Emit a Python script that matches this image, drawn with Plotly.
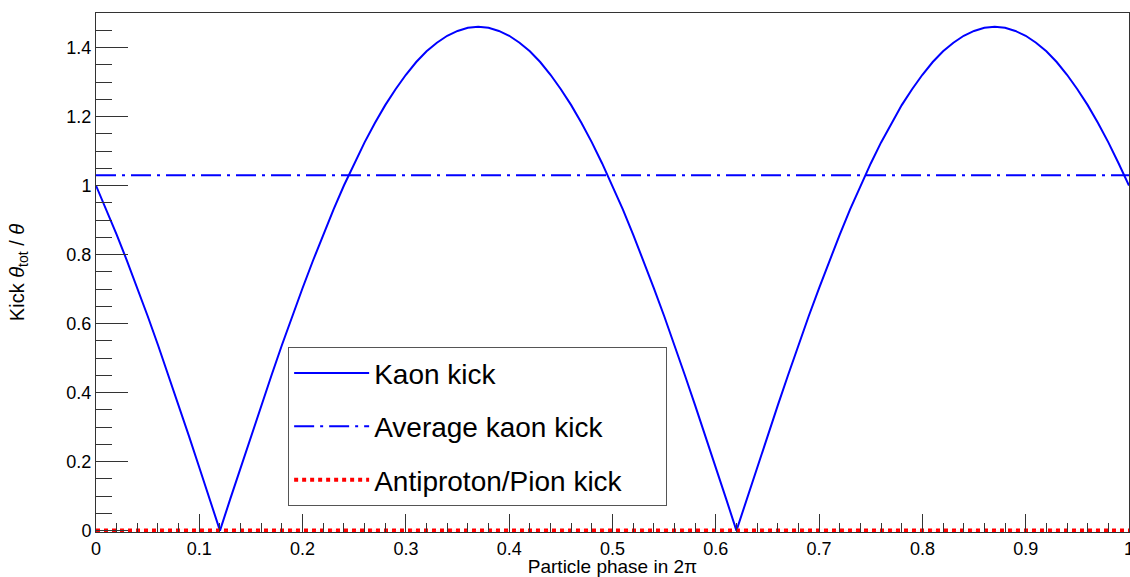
import plotly.graph_objects as go

# Kaon kick (x = particle phase in 2π)
phase = [0.00, 0.01, 0.02, 0.03, 0.04, 0.05, 0.06, 0.07, 0.08, 0.09,
         0.10, 0.11, 0.12, 0.13, 0.14, 0.15, 0.16, 0.17, 0.18, 0.19,
         0.20, 0.21, 0.22, 0.23, 0.24, 0.25, 0.26, 0.27, 0.28, 0.29,
         0.30, 0.31, 0.32, 0.33, 0.34, 0.35, 0.36, 0.37, 0.38, 0.39,
         0.40, 0.41, 0.42, 0.43, 0.44, 0.45, 0.46, 0.47, 0.48, 0.49,
         0.50, 0.51, 0.52, 0.53, 0.54, 0.55, 0.56, 0.57, 0.58, 0.59,
         0.60, 0.61, 0.62, 0.63, 0.64, 0.65, 0.66, 0.67, 0.68, 0.69,
         0.70, 0.71, 0.72, 0.73, 0.74, 0.75, 0.76, 0.77, 0.78, 0.79,
         0.80, 0.81, 0.82, 0.83, 0.84, 0.85, 0.86, 0.87, 0.88, 0.89,
         0.90, 0.91, 0.92, 0.93, 0.94, 0.95, 0.96, 0.97, 0.98, 0.99,
         1.00]
kaon_kick = [1.000, 0.931, 0.858, 0.782, 0.703, 0.622, 0.538, 0.451, 0.363, 0.274,
             0.183, 0.092, 0.000, 0.092, 0.183, 0.274, 0.363, 0.451, 0.538, 0.622,
             0.703, 0.782, 0.858, 0.931, 1.000, 1.064, 1.125, 1.181, 1.233, 1.279,
             1.321, 1.358, 1.389, 1.414, 1.434, 1.448, 1.457, 1.460, 1.457, 1.448,
             1.434, 1.414, 1.389, 1.358, 1.321, 1.279, 1.233, 1.181, 1.125, 1.064,
             1.000, 0.931, 0.858, 0.782, 0.703, 0.622, 0.538, 0.451, 0.363, 0.274,
             0.183, 0.092, 0.000, 0.092, 0.183, 0.274, 0.363, 0.451, 0.538, 0.622,
             0.703, 0.782, 0.858, 0.931, 1.000, 1.064, 1.125, 1.181, 1.233, 1.279,
             1.321, 1.358, 1.389, 1.414, 1.434, 1.448, 1.457, 1.460, 1.457, 1.448,
             1.434, 1.414, 1.389, 1.358, 1.321, 1.279, 1.233, 1.181, 1.125, 1.064,
             1.000]

avg_x = [0.0, 1.0]
avg_kick = [1.03, 1.03]

pbar_x = [0.0, 1.0]
pbar_kick = [0.0, 0.0]

x_ticks = [0, 0.1, 0.2, 0.3, 0.4, 0.5, 0.6, 0.7, 0.8, 0.9, 1]
x_tick_labels = ["0", "0.1", "0.2", "0.3", "0.4", "0.5", "0.6", "0.7", "0.8", "0.9", "1"]
y_ticks = [0, 0.2, 0.4, 0.6, 0.8, 1.0, 1.2, 1.4]
y_tick_labels = ["0", "0.2", "0.4", "0.6", "0.8", "1", "1.2", "1.4"]

FONT = "Liberation Sans, Arial, Helvetica, sans-serif"

fig = go.Figure()
fig.add_trace(go.Scatter(x=phase, y=kaon_kick, mode="lines", name="Kaon kick",
                         legendgroup="a",
                         line=dict(color="#0000ff", width=2)))
fig.add_trace(go.Scatter(x=avg_x, y=avg_kick, mode="lines", name="Average kaon kick",
                         legendgroup="b",
                         line=dict(color="#0000ff", width=2, dash="20px,6px,3px,6px")))
fig.add_trace(go.Scatter(x=pbar_x, y=pbar_kick, mode="lines",
                         name="Antiproton/Pion kick&nbsp;&nbsp;&nbsp;&nbsp;&nbsp;",
                         legendgroup="c",
                         line=dict(color="#ff0000", width=4, dash="4px,4px")))

fig.update_layout(
    width=1130, height=577,
    margin=dict(l=96, r=1, t=13, b=45),
    paper_bgcolor="white", plot_bgcolor="white",
    font=dict(family=FONT, color="black"),
    showlegend=True,
    legend=dict(x=0.186, y=0.356, xanchor="left", yanchor="top",
                bgcolor="white", bordercolor="#555555", borderwidth=1,
                font=dict(size=28, family=FONT, color="black"),
                tracegroupgap=14, itemwidth=75),
    xaxis=dict(range=[0, 1], tickvals=x_ticks, ticktext=x_tick_labels,
               ticks="inside", ticklen=18, tickcolor="#333333", tickwidth=1,
               showgrid=False, zeroline=False, ticklabeloverflow="allow",
               automargin=False,
               showline=True, linecolor="#333333", linewidth=1, mirror=True,
               tickfont=dict(size=18, family=FONT, color="black"),
               title=dict(text="Particle phase in 2π", font=dict(size=19, family=FONT), standoff=0),
               minor=dict(dtick=0.02, ticks="inside", ticklen=9, tickcolor="#333333", showgrid=False)),
    yaxis=dict(range=[-0.004, 1.5], tickvals=y_ticks, ticktext=y_tick_labels,
               ticks="inside", ticklen=32, tickcolor="#333333", tickwidth=1,
               showgrid=False, zeroline=False, automargin=False,
               showline=True, linecolor="#333333", linewidth=1, mirror=True,
               tickfont=dict(size=18, family=FONT, color="black"),
               title=dict(text="Kick <i>θ</i><sub>tot</sub> / <i>θ</i>", font=dict(size=20, family=FONT), standoff=36),
               minor=dict(dtick=0.05, tick0=0, ticks="inside", ticklen=16, tickcolor="#333333", showgrid=False)),
)

fig.write_html("out.html", config={"displayModeBar": False},
               post_script="document.body.style.margin='0';document.body.style.overflow='hidden';")
